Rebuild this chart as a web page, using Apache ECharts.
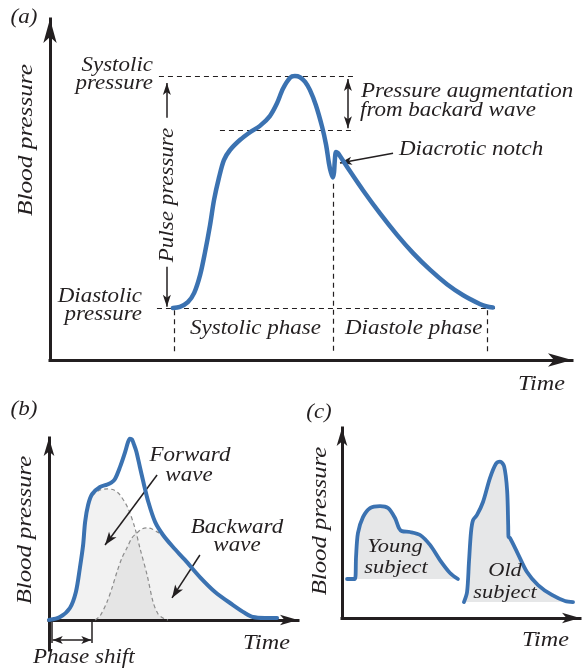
<!DOCTYPE html>
<html><head><meta charset="utf-8">
<script src="https://cdn.jsdelivr.net/npm/echarts@6/dist/echarts.min.js"></script>
<style>html,body{margin:0;padding:0;background:#fff}#c{width:583px;height:671px}</style>
</head><body><div id="c"></div>
<script>
// ---------------- data (time in ms, pressure in mmHg / relative units) ----------------
// (a) single aortic pulse
const SYSTOLIC = 120, DIASTOLIC = 80, AUGMENT_LEVEL = 110.7;
const NOTCH_TIME = 404, CYCLE_START = 3, CYCLE_END = 793;
const waveA = [
  [0,80],[18,80.2],[38,81.0],[54,82.6],[69,85.7],[81,89.5],[94,94.3],[104,98.6],[117,102.6],
  [129,105.5],[144,107.2],[170,109.0],[195,110.3],[220,111.4],[245,113.1],[263,115.3],[278,117.8],
  [296,119.7],[308,120],[321,119.8],[334,119.0],[346,117.6],[361,115.0],[377,111.2],[387,108.1],
  [394,105.0],[399,103.4],[404,102.5],[407,103.4],[409,105.5],[412,106.9],[417,106.7],[422,106.2],
  [447,103.6],[480,100.3],[523,96.3],[566,92.6],[606,89.5],[649,86.6],[692,84.1],[733,82.2],
  [775,80.7],[793,80.26],[808,80.1]
];
// (b) measured wave and its forward / backward components
const waveB = [
  [0,0],[44,1.6],[84,6.6],[108,15.4],[124,28.6],[137,41.2],[145,53.9],[157,63.2],[173,69.2],
  [205,73.1],[233,74.4],[250,75.5],[265,77.5],[285,84],[305,92],[318,98],[325,99.6],[333,99.2],
  [341,96.5],[351,92.5],[365,84.1],[379,75.8],[399,64.8],[426,53.9],[458,46.7],[498,40.1],
  [546,33.0],[606,23.6],[667,15.4],[739,8.2],[787,3.8],[819,1.6],[867,1.1],[916,1.1]
];
const forwardB = [
  [0,0],[44,1.6],[84,6.6],[108,15.4],[124,28.6],[137,41.2],[145,53.9],[157,63.2],[173,68.1],
  [205,71.4],[233,72.0],[261,71.4],[285,68.7],[317,61.5],[345,50.6],[365,39.6],[394,24.7],
  [418,9.9],[438,3.3],[458,1.1],[478,0]
];
const backwardB = [
  [185,0],[205,2.2],[233,9.9],[253,17.6],[273,26.4],[293,34.1],[313,39.6],[333,45.1],[353,47.8],
  [373,50.0],[394,50.6],[414,50.0],[434,48.4],[458,46.7],[498,40.1],[546,33.0],[606,23.6],
  [667,15.4],[739,8.2],[787,3.8],[819,1.6],[867,1.1],[916,1.1]
];
const PHASE_SHIFT = [12, 173];
// (c) young vs old subject
const YOUNG_BASE = 80, OLD_BASE = 67;
const youngC = [
  [37,80],[95,80],[103,92.4],[117,105.9],[154,114.9],[206,120.0],[279,121.1],[338,120.0],
  [389,114.4],[418,108.7],[440,107.0],[499,106.5],[573,104.8],[646,99.2],[719,90.7],[793,83.4],[851,80]
];
const oldC = [
  [895,67.0],[918,72.7],[932,89.6],[947,106.5],[962,113.2],[991,116.1],[1035,123.4],[1086,136.9],
  [1130,145.0],[1160,146.2],[1190,143.5],[1212,130.0],[1220,110.0],[1222,103.7],[1233,103.1],[1285,95.2],
  [1358,83.9],[1439,76.6],[1541,71.0],[1637,67.6],[1696,67.0]
];

// ---------------- styling ----------------
const INK = '#231f20', BLUE = '#3b72b1';
const SX = 1.15;
const FONT = '"Liberation Serif", "Times New Roman", serif';

function axis(gridIndex, min, max, onZero, arrow) {
  return {
    type: 'value', gridIndex, min, max,
    axisLabel: {show: false}, axisTick: {show: false}, splitLine: {show: false},
    axisLine: {show: true, onZero, symbol: ['none', 'arrow'], symbolSize: arrow,
      lineStyle: {color: INK, width: 3, cap: 'square'}}
  };
}
const dashed = {color: INK, width: 1.2, type: [5, 4]};
const solid = {color: INK, width: 1.5, type: 'solid'};
function guide(a, b) { return [{coord: a, symbol: 'none', lineStyle: dashed}, {coord: b, symbol: 'none'}]; }
function arrow(a, b, size, both) {
  return [{coord: a, symbol: both ? 'arrow' : 'none', symbolSize: size, lineStyle: solid},
          {coord: b, symbol: 'arrow', symbolSize: size}];
}
function seg(a, b) { return [{coord: a, symbol: 'none', lineStyle: solid}, {coord: b, symbol: 'none'}]; }

function T(text, x, y, size, align, rot) {
  const al = align || 'center';
  return {type: 'text', x, y, rotation: rot || 0, scaleX: SX, silent: true, z: 100,
    style: {text, font: 'italic ' + size + 'px ' + FONT, fill: INK,
      textAlign: al, align: al, textVerticalAlign: 'middle', verticalAlign: 'middle'}};
}
const R = Math.PI / 2;

const option = {
  animation: false,
  backgroundColor: '#ffffff',
  grid: [
    {left: 50, top: 19, width: 522, height: 341},
    {left: 49, top: 438, width: 249, height: 212},
    {left: 342, top: 428, width: 238, height: 190}
  ],
  xAxis: [
    axis(0, -310, 1007.7, false, [10, 24]),
    axis(1, 0, 1000, true, [8, 18]),
    axis(2, 0, 1747, false, [8, 18])
  ],
  yAxis: [
    axis(0, 71.03, 129.83, false, [10, 24]),
    axis(1, -16.5, 100.0, false, [8, 18]),
    axis(2, 58.03, 165.1, false, [8, 18])
  ],
  series: [
    {
      type: 'line', xAxisIndex: 0, yAxisIndex: 0, data: waveA, smooth: 0.3, symbol: 'none',
      clip: false, silent: true, z: 5,
      lineStyle: {color: BLUE, width: 4.5, cap: 'round', join: 'round'},
      markLine: {
        silent: true, animation: false, label: {show: false}, symbol: 'none',
        emphasis: {disabled: true},
        data: [
          guide([-35, SYSTOLIC], [460, SYSTOLIC]),
          guide([119, AUGMENT_LEVEL], [460, AUGMENT_LEVEL]),
          guide([-40, DIASTOLIC], [821, DIASTOLIC]),
          guide([CYCLE_START, 79.6], [CYCLE_START, 72.3]),
          guide([NOTCH_TIME, 101.4], [NOTCH_TIME, 72.3]),
          guide([CYCLE_END, 79.6], [CYCLE_END, 72.3]),
          arrow([-15, 112.8], [-15, 118.8], [6, 12]),
          arrow([-15, 87.1], [-15, 80.2], [6, 12]),
          arrow([442, 119.5], [442, 111.0], [6, 12], true),
          arrow([556, 106.7], [422, 105.0], [6, 12])
        ]
      }
    },
    {
      type: 'line', xAxisIndex: 1, yAxisIndex: 1, data: forwardB, smooth: 0.3, symbol: 'none',
      clip: false, silent: true, z: 2,
      lineStyle: {color: '#8c8c8c', width: 1.2, type: [4, 3]},
      areaStyle: {color: 'rgba(0,0,0,0.075)', origin: 0}
    },
    {
      type: 'line', xAxisIndex: 1, yAxisIndex: 1, data: backwardB, smooth: 0.3, symbol: 'none',
      clip: false, silent: true, z: 2,
      lineStyle: {color: '#8c8c8c', width: 1.2, type: [4, 3]},
      areaStyle: {color: 'rgba(0,0,0,0.075)', origin: 0}
    },
    {
      type: 'line', xAxisIndex: 1, yAxisIndex: 1, data: waveB, smooth: 0.3, symbol: 'none',
      clip: false, silent: true, z: 5,
      lineStyle: {color: BLUE, width: 4, cap: 'round', join: 'round'},
      markLine: {
        silent: true, animation: false, label: {show: false}, symbol: 'none',
        emphasis: {disabled: true},
        data: [
          seg([PHASE_SHIFT[0], 0], [PHASE_SHIFT[0], -12.6]),
          seg([PHASE_SHIFT[1], 0], [PHASE_SHIFT[1], -12.6]),
          arrow([PHASE_SHIFT[0] + 3, -11], [PHASE_SHIFT[1] - 3, -11], [6, 10], true),
          arrow([434, 79.7], [225, 41.2], [7, 13]),
          arrow([606, 35.7], [494, 12.1], [7, 13])
        ]
      }
    },
    {
      type: 'line', xAxisIndex: 2, yAxisIndex: 2, data: youngC, smooth: 0.3, symbol: 'none',
      clip: false, silent: true, z: 5,
      lineStyle: {color: BLUE, width: 3.8, cap: 'round', join: 'round'},
      areaStyle: {color: '#e6e7e8', opacity: 1, origin: YOUNG_BASE}
    },
    {
      type: 'line', xAxisIndex: 2, yAxisIndex: 2, data: oldC, smooth: 0.3, symbol: 'none',
      clip: false, silent: true, z: 5,
      lineStyle: {color: BLUE, width: 3.8, cap: 'round', join: 'round'},
      areaStyle: {color: '#e6e7e8', opacity: 1, origin: OLD_BASE}
    }
  ],
  graphic: [
    // (a)
    T('(a)', 24, 18, 20),
    T('Blood pressure', 26, 140, 22, 'center', R),
    T('Systolic', 153, 66, 20, 'right'),
    T('pressure', 153, 84, 20, 'right'),
    T('Diastolic', 142, 297, 20, 'right'),
    T('pressure', 142, 315, 20, 'right'),
    T('Pulse pressure', 168, 195, 20, 'center', R),
    T('Pressure augmentation', 361, 92, 20, 'left'),
    T('from backard wave', 360, 111, 20, 'left'),
    T('Diacrotic notch', 399, 150, 20, 'left'),
    T('Systolic phase', 190, 329, 20, 'left'),
    T('Diastole phase', 345, 329, 20, 'left'),
    T('Time', 518, 384, 21, 'left'),
    // (b)
    T('(b)', 24, 410, 20),
    T('Blood pressure', 25, 530, 21.5, 'center', R),
    T('Forward', 190, 456, 20),
    T('wave', 189, 476, 20),
    T('Backward', 237, 528, 20),
    T('wave', 237, 546, 20),
    T('Time', 243, 643, 21, 'left'),
    T('Phase shift', 33, 658, 20, 'left'),
    // (c)
    T('(c)', 319, 413, 20),
    T('Blood pressure', 320, 521, 21.5, 'center', R),
    T('Time', 522, 640, 21, 'left'),
    T('Young', 395, 547, 19.5),
    T('subject', 396, 568, 19.5),
    T('Old', 505, 571, 19.5),
    T('subject', 505, 593, 19.5)
  ]
};

const chart = echarts.init(document.getElementById('c'), null, {renderer: 'canvas', width: 583, height: 671});
chart.setOption(option);
</script>
</body></html>
